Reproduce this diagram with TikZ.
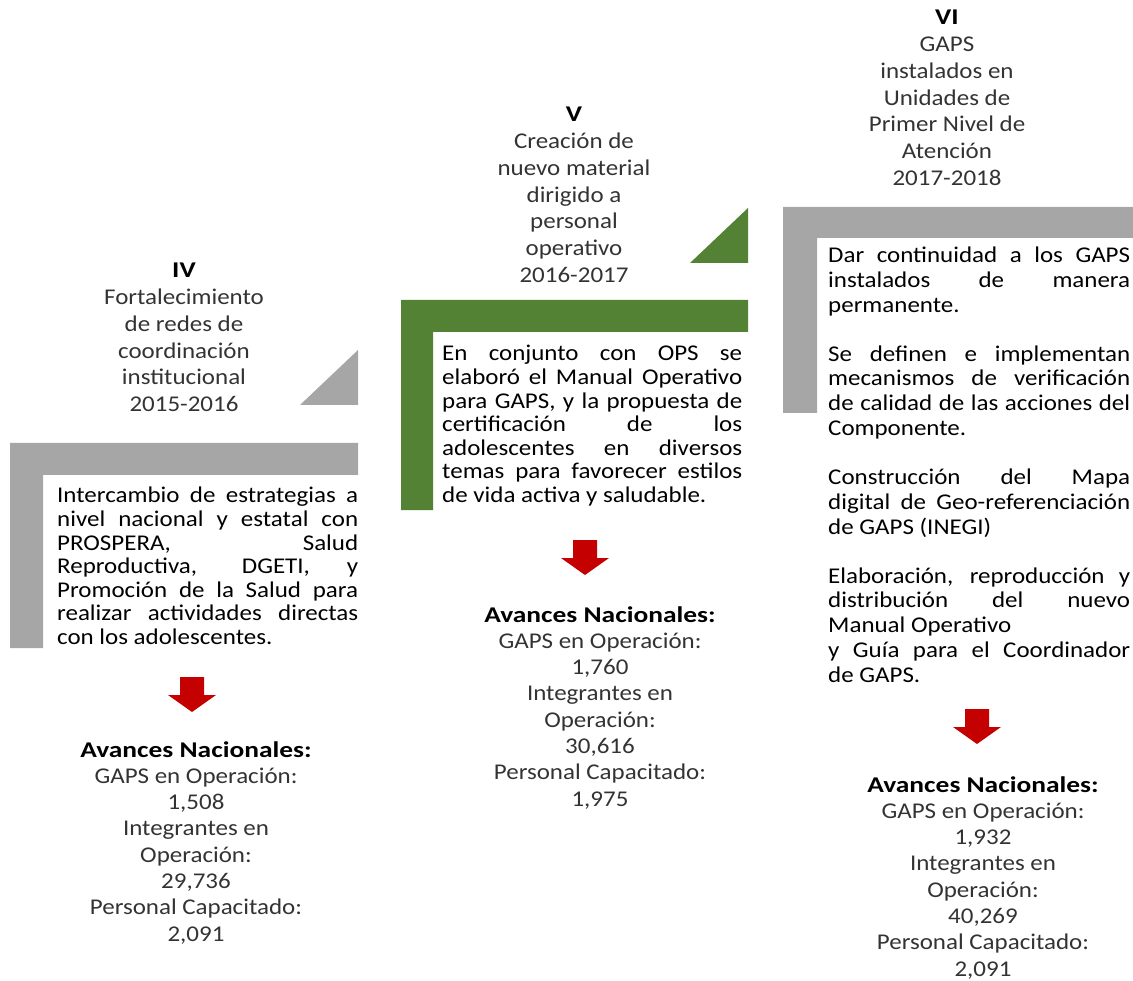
\documentclass[tikz,border=0pt]{standalone}
\usepackage{fontspec}
\setmainfont{Carlito}[UprightFeatures={FakeStretch=1.11},BoldFeatures={FakeStretch=1.22}]
\definecolor{barGray}{HTML}{A6A6A6}
\definecolor{barGreen}{HTML}{548235}
\definecolor{arrowRed}{HTML}{C40000}
\definecolor{softInk}{HTML}{333333}
% width of the current text column, set by the body style
\newlength\colwidth
% a justified line: the font's own spaces stretch to fill the column
\newcommand\jline[1]{\leavevmode\hbox to \colwidth{\spaceskip=0pt\xspaceskip=0pt #1}}
\begin{document}
\begin{tikzpicture}[x=1pt,y=-1pt,
  body/.style={anchor=base west, inner sep=0pt, text width=#1, align=flush left,
    font=\fontsize{22.5}{23.6}\selectfont, text=black,
    execute at begin node={\setlength\colwidth{#1}}},
  heading/.style={anchor=base, inner sep=0pt, text width=280pt, align=flush center,
    font=\fontsize{22.5}{26.7}\selectfont, text=softInk},
  result/.style={anchor=base, inner sep=0pt, text width=300pt, align=flush center,
    font=\fontsize{22.5}{26.3}\selectfont, text=softInk},
  downarrow/.pic={
    \fill[arrowRed] (-12,0) -- (12,0) -- (12,18) -- (24,18) -- (0,35)
      -- (-24,18) -- (-12,18) -- cycle;
  }]
\useasboundingbox (0,0) rectangle (1133,981);

% ---------- stage IV ----------
\node[heading] (t4) at (184,278) {\textbf{\color{black}IV}\\Fortalecimiento\\de redes de\\coordinación\\institucional\\2015-2016};
\fill[barGray] (300,405) -- (358,405) -- (358,350) -- cycle;
\fill[barGray] (10,443) -- (358,443) -- (358,475) -- (43,475) -- (43,648) -- (10,648) -- cycle;
\node[body=301pt] (b4) at (57,503) {\jline{Intercambio de estrategias a}\\
  \jline{nivel nacional y estatal con}\\
  \jline{PROSPERA, Salud}\\
  \jline{Reproductiva, DGETI, y}\\
  \jline{Promoción de la Salud para}\\
  \jline{realizar actividades directas}\\
  con los adolescentes.};
\pic at (192,677) {downarrow};
\node[result] (a4) at (196,757) {\textbf{\color{black}Avances Nacionales:}\\GAPS en Operación:\\1,508\\Integrantes en\\Operación:\\29,736\\Personal Capacitado:\\2,091};

% ---------- stage V ----------
\node[heading] (t5) at (574,122) {\textbf{\color{black}V}\\Creación de\\nuevo material\\dirigido a\\personal\\operativo\\2016-2017};
\fill[barGreen] (690,263) -- (748,263) -- (748,208) -- cycle;
\fill[barGreen] (401,300) -- (748,300) -- (748,332) -- (433,332) -- (433,510) -- (401,510) -- cycle;
\node[body=300pt] (b5) at (442,361) {\jline{En conjunto con OPS se}\\
  \jline{elaboró el Manual Operativo}\\
  \jline{para GAPS, y la propuesta de}\\
  \jline{certificación de los}\\
  \jline{adolescentes en diversos}\\
  \jline{temas para favorecer estilos}\\
  de vida activa y saludable.};
\pic at (585,540) {downarrow};
\node[result] (a5) at (600,622) {\textbf{\color{black}Avances Nacionales:}\\GAPS en Operación:\\1,760\\Integrantes en\\Operación:\\30,616\\Personal Capacitado:\\1,975};

% ---------- stage VI ----------
\node[heading] (t6) at (947,25) {\textbf{\color{black}VI}\\GAPS\\instalados en\\Unidades de\\Primer Nivel de\\Atención\\2017-2018};
\fill[barGray] (783,207) -- (1133,207) -- (1133,238) -- (817,238) -- (817,413) -- (783,413) -- cycle;
\node[body=302pt, font=\fontsize{22.5}{24.8}\selectfont] (b6) at (828,262.5) {\jline{Dar continuidad a los GAPS}\\
  \jline{instalados de manera}\\
  permanente.\\[24.2pt]
  \jline{Se definen e implementan}\\
  \jline{mecanismos de verificación}\\
  \jline{de calidad de las acciones del}\\
  Componente.\\[24.2pt]
  \jline{Construcción del Mapa}\\
  \jline{digital de Geo-referenciación}\\
  de GAPS (INEGI)\\[24.2pt]
  \jline{Elaboración, reproducción y}\\
  \jline{distribución del nuevo}\\
  Manual Operativo\\
  \jline{y Guía para el Coordinador}\\
  de GAPS.};
\pic at (977,709) {downarrow};
\node[result] (a6) at (983,792) {\textbf{\color{black}Avances Nacionales:}\\GAPS en Operación:\\1,932\\Integrantes en\\Operación:\\40,269\\Personal Capacitado:\\2,091};
\end{tikzpicture}
\end{document}
